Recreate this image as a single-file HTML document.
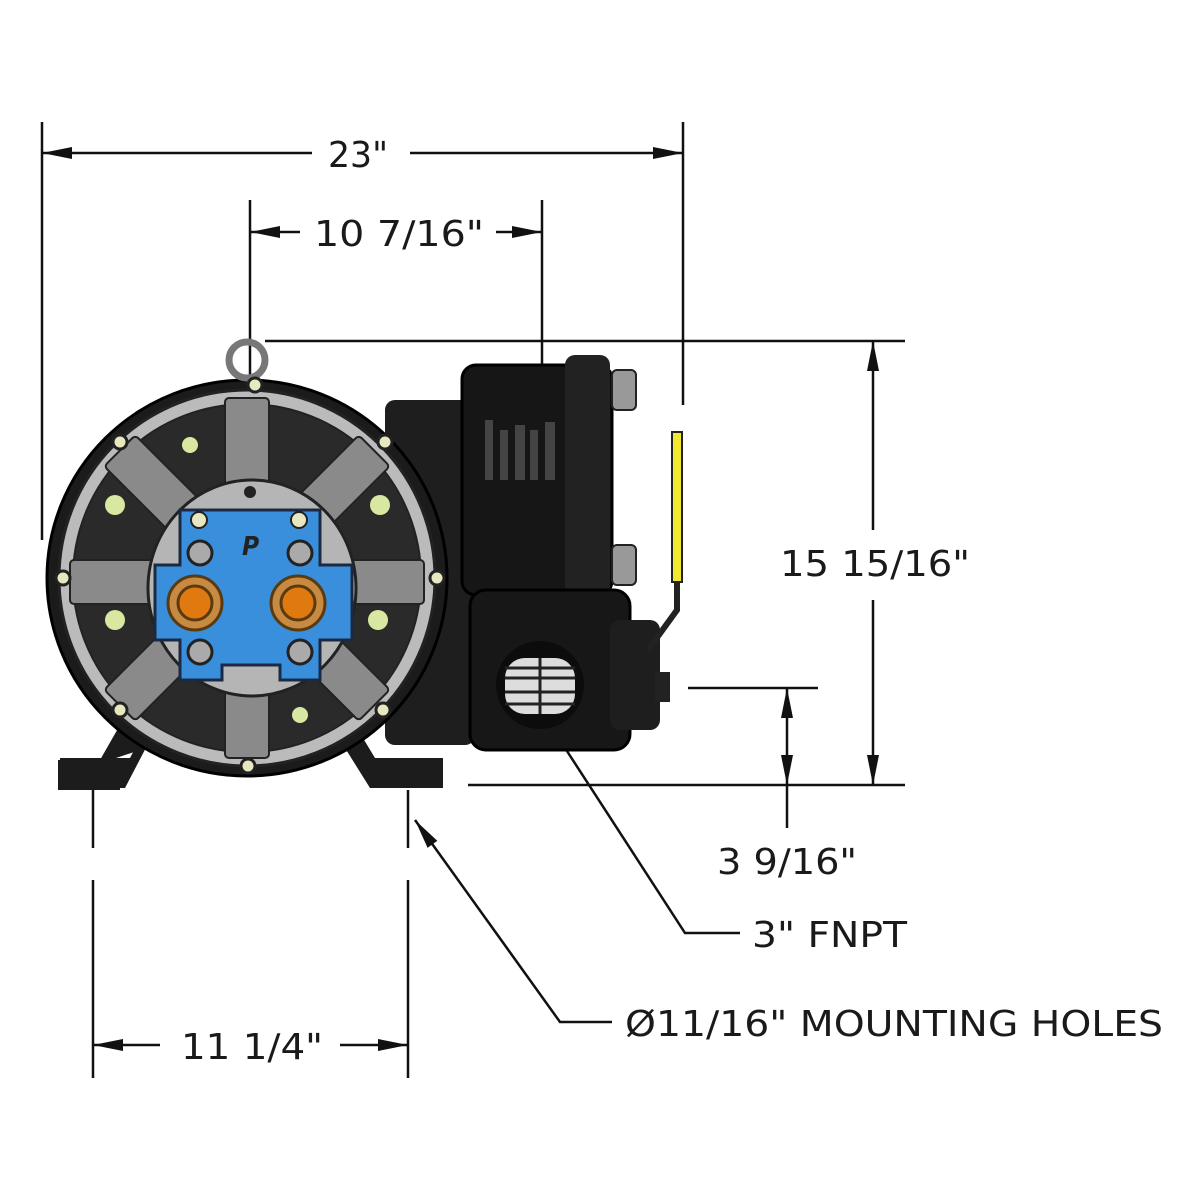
<!DOCTYPE html>
<html><head><meta charset="utf-8"><style>
html,body{margin:0;padding:0;background:#fff}
svg{display:block}
text{font-family:"DejaVu Sans Condensed","DejaVu Sans","Liberation Sans",sans-serif;fill:#1a1a1a;font-size:36px}
</style></head><body>
<svg width="1200" height="1200" viewBox="0 0 1200 1200" xmlns="http://www.w3.org/2000/svg">
<defs>
<marker id="a" viewBox="0 0 10 10" refX="10" refY="5" markerWidth="10" markerHeight="6" orient="auto-start-reverse" markerUnits="userSpaceOnUse"><path d="M0,0 L10,5 L0,10 Z" fill="#111"/></marker>
<marker id="b" viewBox="0 0 30 12" refX="30" refY="6" markerWidth="30" markerHeight="12" orient="auto-start-reverse" markerUnits="userSpaceOnUse"><path d="M0,0 L30,6 L0,12 Z" fill="#111"/></marker>
<radialGradient id="g1" cx="0.5" cy="0.5" r="0.5"><stop offset="0.55" stop-color="#444"/><stop offset="0.8" stop-color="#b0b0b0"/><stop offset="1" stop-color="#555"/></radialGradient>
</defs>
<g stroke="#111" stroke-width="2.5" fill="none">
<!-- 23 -->
<line x1="42" y1="122" x2="42" y2="540"/><line x1="683" y1="122" x2="683" y2="405"/>
<line x1="42" y1="153" x2="312" y2="153" marker-start="url(#b)"/><line x1="410" y1="153" x2="683" y2="153" marker-end="url(#b)"/>
<!-- 10 7/16 -->
<line x1="250" y1="200" x2="250" y2="470"/><line x1="542" y1="200" x2="542" y2="365"/>
<line x1="250" y1="232" x2="300" y2="232" marker-start="url(#b)"/><line x1="496" y1="232" x2="542" y2="232" marker-end="url(#b)"/>
<!-- 15 15/16 -->
<line x1="265" y1="341" x2="905" y2="341"/><line x1="468" y1="785" x2="905" y2="785"/>
<line x1="873" y1="341" x2="873" y2="530" marker-start="url(#b)"/><line x1="873" y1="600" x2="873" y2="785" marker-end="url(#b)"/>
<!-- 3 9/16 -->
<line x1="688" y1="688" x2="818" y2="688"/>
<line x1="787" y1="688" x2="787" y2="785" marker-start="url(#b)" marker-end="url(#b)"/>
<line x1="787" y1="785" x2="787" y2="828"/>
<!-- 11 1/4 -->
<line x1="93" y1="790" x2="93" y2="848"/><line x1="93" y1="880" x2="93" y2="1078"/>
<line x1="408" y1="790" x2="408" y2="848"/><line x1="408" y1="880" x2="408" y2="1078"/>
<line x1="93" y1="1045" x2="160" y2="1045" marker-start="url(#b)"/><line x1="340" y1="1045" x2="408" y2="1045" marker-end="url(#b)"/>
<!-- leaders -->
<polyline points="565,748 685,933 740,933"/>
<polyline points="415,820 560,1022 612,1022" marker-start="url(#b)"/>
</g>
<!-- pump right body -->
<g>
<rect x="385" y="400" width="90" height="345" rx="10" fill="#1e1e1e"/>
<rect x="462" y="365" width="150" height="230" rx="14" fill="#161616" stroke="#000" stroke-width="3"/>
<rect x="565" y="355" width="45" height="245" rx="10" fill="#222"/>
<rect x="612" y="370" width="24" height="40" rx="5" fill="#999" stroke="#222" stroke-width="2"/>
<rect x="612" y="545" width="24" height="40" rx="5" fill="#999" stroke="#222" stroke-width="2"/>
<rect x="470" y="590" width="160" height="160" rx="16" fill="#171717" stroke="#000" stroke-width="3"/>
<rect x="610" y="620" width="50" height="110" rx="10" fill="#1e1e1e"/>
<rect x="655" y="672" width="15" height="30" fill="#222"/>
<circle cx="540" cy="685" r="44" fill="#0c0c0c"/>
<rect x="505" y="658" width="70" height="56" rx="20" fill="#ddd"/>
<g stroke="#222" stroke-width="3"><line x1="505" y1="668" x2="575" y2="668"/><line x1="505" y1="678" x2="575" y2="678"/><line x1="505" y1="692" x2="575" y2="692"/><line x1="505" y1="704" x2="575" y2="704"/><line x1="540" y1="658" x2="540" y2="714"/></g>
<rect x="672" y="432" width="10" height="150" fill="#f2e830" stroke="#222" stroke-width="2"/>
<path d="M677,582 L677,610 L648,650" stroke="#222" stroke-width="6" fill="none"/>
<g fill="#444"><rect x="485" y="420" width="8" height="60"/><rect x="500" y="430" width="8" height="50"/><rect x="515" y="425" width="10" height="55"/><rect x="530" y="430" width="8" height="50"/><rect x="545" y="422" width="10" height="58"/></g>
</g>
<!-- feet -->
<path d="M58,760 L100,760 L140,690 L170,740 L110,760 L120,760 L120,790 L58,790 Z" fill="#1c1c1c"/>
<path d="M60,758 L130,758 L160,700 L340,700 L375,758 L443,758 L443,788 L370,788 L340,740 L150,740 L125,788 L60,788 Z" fill="#1c1c1c"/>
<!-- main casing -->
<ellipse cx="247" cy="578" rx="200" ry="198" fill="#1b1b1b" stroke="#000" stroke-width="3"/>
<circle cx="247" cy="360" r="18" fill="none" stroke="#777" stroke-width="7"/>
<ellipse cx="247" cy="578" rx="188" ry="188" fill="#bbb" stroke="#222" stroke-width="3"/>
<ellipse cx="247" cy="578" rx="174" ry="174" fill="#2a2a2a" stroke="#222" stroke-width="2"/>
<g fill="#8a8a8a" stroke="#222" stroke-width="2">
<rect x="225" y="398" width="44" height="360" rx="4"/>
<rect x="70" y="560" width="354" height="44" rx="4"/>
<rect x="225" y="398" width="44" height="360" rx="4" transform="rotate(45 247 578)"/>
<rect x="225" y="398" width="44" height="360" rx="4" transform="rotate(-45 247 578)"/>
</g>
<g fill="#d8e8a0"><circle cx="115" cy="505" r="10"/><circle cx="115" cy="620" r="10"/><circle cx="380" cy="505" r="10"/><circle cx="378" cy="620" r="10"/><circle cx="190" cy="445" r="8"/><circle cx="300" cy="715" r="8"/></g>
<ellipse cx="252" cy="588" rx="104" ry="108" fill="#b5b5b5" stroke="#222" stroke-width="3"/>
<circle cx="250" cy="492" r="6" fill="#222"/>
<!-- blue plate -->
<path d="M180,510 L320,510 L320,565 L352,565 L352,640 L320,640 L320,680 L280,680 L280,665 L222,665 L222,680 L180,680 L180,640 L155,640 L155,565 L180,565 Z" fill="#3a8fdc" stroke="#1a2a44" stroke-width="3"/>
<text x="242" y="555" style="font-size:26px;font-style:italic;font-weight:bold;fill:#222">P</text>
<g fill="#aaa" stroke="#222" stroke-width="3">
<circle cx="200" cy="553" r="12"/><circle cx="300" cy="553" r="12"/><circle cx="200" cy="652" r="12"/><circle cx="300" cy="652" r="12"/>
</g>
<g fill="#e8e8c0" stroke="#222" stroke-width="2"><circle cx="199" cy="520" r="8"/><circle cx="299" cy="520" r="8"/></g>
<g stroke="#5a3a10" stroke-width="3"><circle cx="195" cy="603" r="27" fill="#c88a40"/><circle cx="195" cy="603" r="17" fill="#e07a10"/><circle cx="298" cy="603" r="27" fill="#c88a40"/><circle cx="298" cy="603" r="17" fill="#e07a10"/></g>
<!-- bolts -->
<g fill="#e8e8c0" stroke="#222" stroke-width="3">
<circle cx="255" cy="385" r="7"/><circle cx="120" cy="442" r="7"/><circle cx="385" cy="442" r="7"/><circle cx="63" cy="578" r="7"/><circle cx="437" cy="578" r="7"/><circle cx="120" cy="710" r="7"/><circle cx="383" cy="710" r="7"/><circle cx="248" cy="766" r="7"/>
</g>
<!-- labels -->
<text x="328" y="167" textLength="60" lengthAdjust="spacingAndGlyphs">23"</text>
<text x="314" y="246" textLength="170" lengthAdjust="spacingAndGlyphs">10 7/16"</text>
<text x="780" y="576" textLength="190" lengthAdjust="spacingAndGlyphs">15 15/16"</text>
<text x="717" y="874" textLength="140" lengthAdjust="spacingAndGlyphs">3 9/16"</text>
<text x="752" y="947" textLength="155" lengthAdjust="spacingAndGlyphs">3" FNPT</text>
<text x="625" y="1036" textLength="538" lengthAdjust="spacingAndGlyphs">Ø11/16" MOUNTING HOLES</text>
<text x="181" y="1059" textLength="142" lengthAdjust="spacingAndGlyphs">11 1/4"</text>
</svg>
</body></html>
